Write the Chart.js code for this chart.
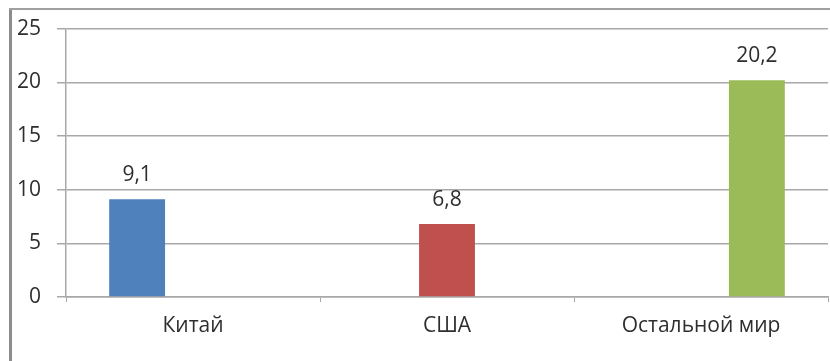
<!DOCTYPE html>
<html>
<head>
<meta charset="utf-8">
<script src="https://cdn.jsdelivr.net/npm/chart.js@4/dist/chart.umd.min.js"></script>
<style>
  html, body { margin: 0; padding: 0; background: #fff; }
  #wrap { width: 830px; height: 361px; }
</style>
</head>
<body>
<div id="wrap"><canvas id="chart" width="830" height="361"></canvas></div>
<script>
// data
const categories = ['Китай', 'США', 'Остальной мир'];
const values = [9.1, 6.8, 20.2];
const yTicks = [0, 5, 10, 15, 20, 25];

const barColors = ['#4F81BD', '#C0504D', '#9BBB59'];
const textColor = '#2e2e2e';
const gridColor = '#a8a8a8';
const font = { family: '"Open Sans", sans-serif', size: 21 };

// Excel-style: one series per category, so each bar sits in its own slot
const datasets = categories.map((name, i) => ({
    label: name,
    data: categories.map((_, j) => (j === i ? values[i] : null)),
    backgroundColor: barColors[i],
    borderWidth: 0
}));

const fmt = v => String(v).replace('.', ',');

// frame lines round the chart, as in the screenshot
const framePlugin = {
    id: 'frame',
    beforeDraw(chart) {
        const c = chart.ctx;
        c.save();
        c.fillStyle = '#fff';
        c.fillRect(0, 0, chart.width, chart.height);
        c.strokeStyle = '#8c8c8c';
        c.lineWidth = 3;
        c.beginPath();
        c.moveTo(10.5, 8);
        c.lineTo(10.5, chart.height);
        c.stroke();
        c.strokeStyle = '#a0a0a0';
        c.lineWidth = 2;
        c.beginPath();
        c.moveTo(9, 9);
        c.lineTo(chart.width, 9);
        c.stroke();
        c.restore();
    }
};

// value labels above the bars
const valueLabels = {
    id: 'valueLabels',
    afterDatasetsDraw(chart) {
        const c = chart.ctx;
        c.save();
        c.font = `${font.size}px ${font.family}`;
        c.fillStyle = textColor;
        c.textAlign = 'center';
        c.textBaseline = 'middle';
        chart.data.datasets.forEach((ds, di) => {
            const meta = chart.getDatasetMeta(di);
            meta.data.forEach((bar, j) => {
                const v = ds.data[j];
                if (v == null) return;
                c.fillText(fmt(v), bar.x, bar.y - 24);
            });
        });
        c.restore();
    }
};

new Chart(document.getElementById('chart'), {
    type: 'bar',
    data: { labels: categories, datasets: datasets },
    options: {
        responsive: false,
        animation: false,
        layout: { padding: { top: 28, right: 2, left: 0, bottom: 0 } },
        datasets: { bar: { categoryPercentage: 0.66, barPercentage: 1 } },
        plugins: { legend: { display: false }, tooltip: { enabled: false } },
        scales: {
            x: {
                afterFit: s => { s.height = 64; },
                grid: { drawOnChartArea: false, drawTicks: true, tickLength: 5, color: gridColor },
                border: { display: true, color: gridColor, width: 1.5 },
                ticks: { color: textColor, font: font, padding: 11 }
            },
            y: {
                min: 0,
                max: 25,
                afterFit: s => { s.width = 66; },
                afterBuildTicks: s => { s.ticks = yTicks.map(v => ({ value: v })); },
                grid: { color: gridColor, tickLength: 9, lineWidth: 1.5 },
                border: { display: true, color: gridColor, width: 1.5 },
                ticks: { color: textColor, font: font, padding: 16 }
            }
        }
    },
    plugins: [framePlugin, valueLabels]
});
</script>
</body>
</html>
